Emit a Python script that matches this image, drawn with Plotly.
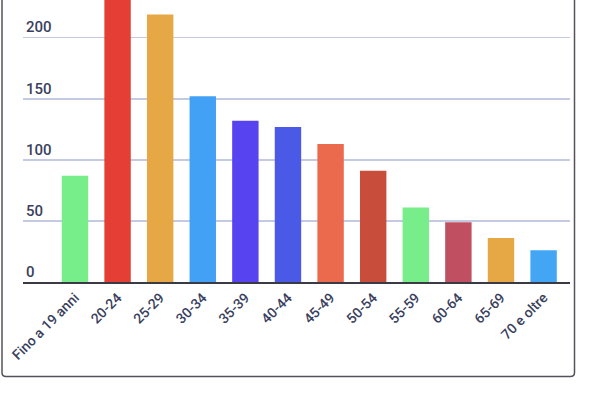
import plotly.graph_objects as go

categories = ["Fino a 19 anni", "20-24", "25-29", "30-34", "35-39", "40-44",
              "45-49", "50-54", "55-59", "60-64", "65-69", "70 e oltre"]
values = [87, 245, 219, 152, 132, 127, 113, 91, 61, 49, 36, 26]
bar_colors = ["#77ee8a", "#e53e34", "#e5a844", "#42a0f5", "#5843f0", "#4b5ae6",
              "#eb6a4d", "#c94d3b", "#77ee8a", "#c04f61", "#e5a844", "#42a6f5"]
y_ticks = [0, 50, 100, 150, 200]

W, H = 600, 400
L, R, T, B = 23, 30, 0, 118
pw = W - L - R
ph = H - T - B

def px(x):
    return (x - L) / pw

def py(y):
    return (H - B - y) / ph

fig = go.Figure(go.Bar(
    x=categories, y=values,
    marker=dict(color=bar_colors, line=dict(width=0)),
    width=0.62,
    hoverinfo="skip",
))

# frame (rounded rectangle, top edge off-screen)
x0, x1, yb, r = px(2), px(574.5), py(376.5), 4
path = (f"M {x0} {py(-20)} L {x0} {py(376.5 - r)} "
        f"Q {x0} {yb} {px(2 + r)} {yb} "
        f"L {px(574.5 - r)} {yb} Q {x1} {yb} {x1} {py(376.5 - r)} "
        f"L {x1} {py(-20)}")
fig.add_shape(type="path", path=path, xref="paper", yref="paper",
              line=dict(color="#55525a", width=1.5), layer="above")

fig.update_layout(
    width=W, height=H,
    margin=dict(l=L, r=R, t=T, b=B, pad=0),
    paper_bgcolor="white", plot_bgcolor="white",
    showlegend=False,
    font=dict(family="Roboto, Arial, sans-serif", color="#3a3f5e"),
    xaxis=dict(
        type="category",
        range=[-1.22, 11.62],
        tickangle=-45,
        tickfont=dict(size=14, color="#3a3f5e", weight=500),
        showline=True, linecolor="#3a3a44", linewidth=2,
        showgrid=False, ticks="",
    ),
    yaxis=dict(
        range=[0, 230.9],
        tickvals=y_ticks,
        ticktext=[str(v) for v in y_ticks],
        ticklabelposition="inside top",
        tickfont=dict(size=15, color="#3a3f5e", weight=500),
        showgrid=True, gridcolor="#c5cae3", gridwidth=1.5,
        zeroline=False, showline=False, ticks="",
    ),
)

fig.write_html("out.html",
               config={"displayModeBar": False, "staticPlot": True},
               post_script="document.body.style.margin='0';document.body.style.overflow='hidden';")
